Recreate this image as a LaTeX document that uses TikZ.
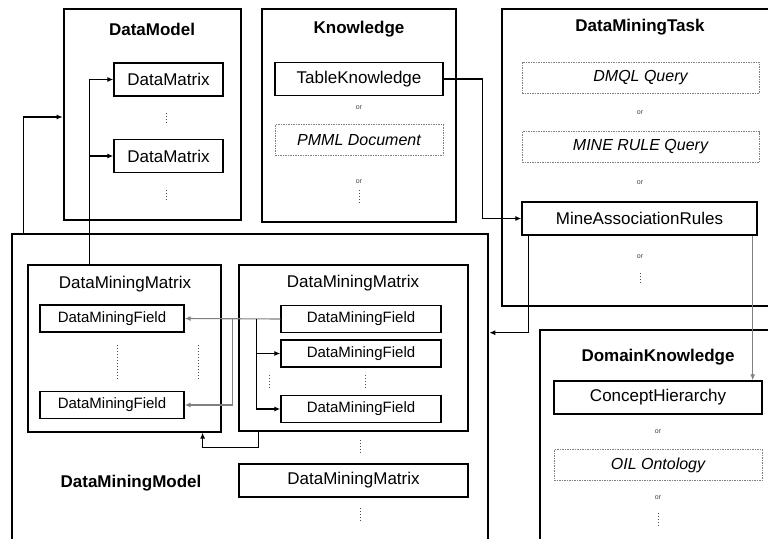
\documentclass[tikz,border=0pt]{standalone}
\usepackage{fontspec}
\setmainfont{Liberation Sans}
\usetikzlibrary{calc,arrows.meta}

\begin{document}
\begin{tikzpicture}[x=1pt,y=-1pt,
    outer/.style={draw, line width=2.6pt, inner sep=0pt},
    title/.style={font=\fontsize{17}{19}\selectfont\bfseries},
    item/.style={draw, line width=1.4pt, minimum height=33pt, inner sep=0pt, font=\fontsize{17}{19}\selectfont},
    alt/.style={draw=gray, dash pattern=on 1.5pt off 1pt, line width=0.8pt, minimum height=31pt, inner sep=0pt, font=\fontsize{16}{18}\selectfont\itshape},
    matbox/.style={draw, line width=1.2pt, inner sep=0pt},
    field/.style={draw, line width=1.4pt, minimum width=144pt, minimum height=27pt, inner sep=0pt, font=\fontsize{15}{17}\selectfont},
    ortext/.style={font=\fontsize{7}{8}\selectfont, text=black!75},
    more/.style={dotted, line width=1pt, black!70},
    conn/.style={line width=1.1pt, -{Latex[length=6pt,width=5pt]}}]
  \useasboundingbox (0,0) rectangle (768,538);
  \clip (0,0) rectangle (768,538);

  \node[outer, minimum width=177pt, minimum height=211pt] (datamodel) at (152.5,114.5) {};
  \node[title] (datamodelt) at (152,29) {DataModel};
  \node[item, minimum width=109pt] (dmx1) at (168.5,79.5) {DataMatrix};
  \node[item, minimum width=109pt] (dmx2) at (168.5,156) {DataMatrix};
  \draw[more] (166,113) -- (166,125);
  \draw[more] (166,190) -- (166,202);

  \node[outer, minimum width=194pt, minimum height=213pt] (knowledge) at (359,115.5) {};
  \node[title] (knowledget) at (359,29) {Knowledge};
  \node[item, minimum width=168pt] (tk) at (359,79) {TableKnowledge};
  \node[ortext] (or1) at (359,108) {or};
  \node[alt, minimum width=168pt] (pmml) at (359,140) {PMML Document};
  \node[ortext] (or2) at (359,182) {or};
  \draw[more] (359,190) -- (359,203);

  \node[outer, minimum width=288pt, minimum height=297pt] (task) at (646,157.5) {};
  \node[title] (taskt) at (640,27) {DataMiningTask};
  \node[alt, minimum width=237pt] (dmql) at (640.5,77.5) {DMQL Query};
  \node[ortext] (or3) at (640,113) {or};
  \node[alt, minimum width=237pt] (minerule) at (640.5,147) {MINE RULE Query};
  \node[ortext] (or4) at (640,183) {or};
  \node[item, minimum width=235pt] (mar) at (639.5,218.5) {MineAssociationRules};
  \node[ortext] (or5) at (640,257) {or};
  \draw[more] (640,273) -- (640,285);

  \node[outer, minimum width=476pt, minimum height=336pt] (dmmodel) at (250,402) {};
  \node[title] (dmmodelt) at (131,483) {DataMiningModel};
  \node[matbox, minimum width=193pt, minimum height=167pt] (mat1) at (124.5,348.5) {};
  \node[font=\fontsize{17}{19}\selectfont] (mat1t) at (125,284) {DataMiningMatrix};
  \node[field] (f1a) at (112,318.5) {DataMiningField};
  \node[field] (f1b) at (112,405) {DataMiningField};
  \draw[more] (117,345) -- (117,379);
  \draw[more] (198,345) -- (198,379);
  \node[matbox, minimum width=229pt, minimum height=166pt] (mat2) at (353.5,348) {};
  \node[font=\fontsize{17}{19}\selectfont] (mat2t) at (353,283) {DataMiningMatrix};
  \node[field, minimum width=160pt] (f2a) at (361,319) {DataMiningField};
  \node[field, minimum width=160pt] (f2b) at (361,353.5) {DataMiningField};
  \node[field, minimum width=160pt] (f2c) at (361,409) {DataMiningField};
  \draw[more] (269,375) -- (269,389);
  \draw[more] (365,375) -- (365,389);
  \draw[more] (360,440) -- (360,455);
  \node[item, line width=1.2pt, minimum width=229pt] (mat3) at (353.5,480.5) {DataMiningMatrix};
  \draw[more] (360,508) -- (360,522);

  \node[outer, minimum width=250pt, minimum height=240pt] (domain) at (665,450) {};
  \node[title] (domaint) at (658,357) {DomainKnowledge};
  \node[item, minimum width=208pt] (ch) at (658,397.5) {ConceptHierarchy};
  \node[ortext] (or6) at (658,432) {or};
  \node[alt, minimum width=208pt] (oil) at (658,465) {OIL Ontology};
  \node[ortext] (or7) at (658,498) {or};
  \draw[more] (658,513) -- (658,528);

  \draw[conn] ([xshift=13pt]dmmodel.north west) |- ([yshift=-2.5pt]datamodel.west);
  \draw[conn] ([xshift=62pt]mat1.north west) |- (dmx1.west);
  \draw[conn] ([xshift=-24pt]dmx2.west) -- (dmx2.west);
  \draw[conn] (tk.east) -- ++(39,0) |- (mar.west);
  \draw[conn] ([xshift=7pt]mar.south west) |- ([yshift=-100pt]dmmodel.north east);
  \draw[conn, gray] ([xshift=-5pt]mar.south east) -- ([xshift=-10pt]ch.north east);
  \draw[conn, gray] (f2a.west) -- (f1a.east);
  \draw[conn, gray] ([xshift=-48pt]f2a.west) |- (f1b.east);
  \draw[conn] ([xshift=-24pt]f2a.west) |- (f2b.west);
  \draw[conn] ([xshift=-24pt]f2a.west) |- (f2c.west);
  \draw[conn] ([xshift=20pt]mat2.south west) -- ++(0,16) -| ([xshift=-19pt]mat1.south east);
\end{tikzpicture}
\end{document}
